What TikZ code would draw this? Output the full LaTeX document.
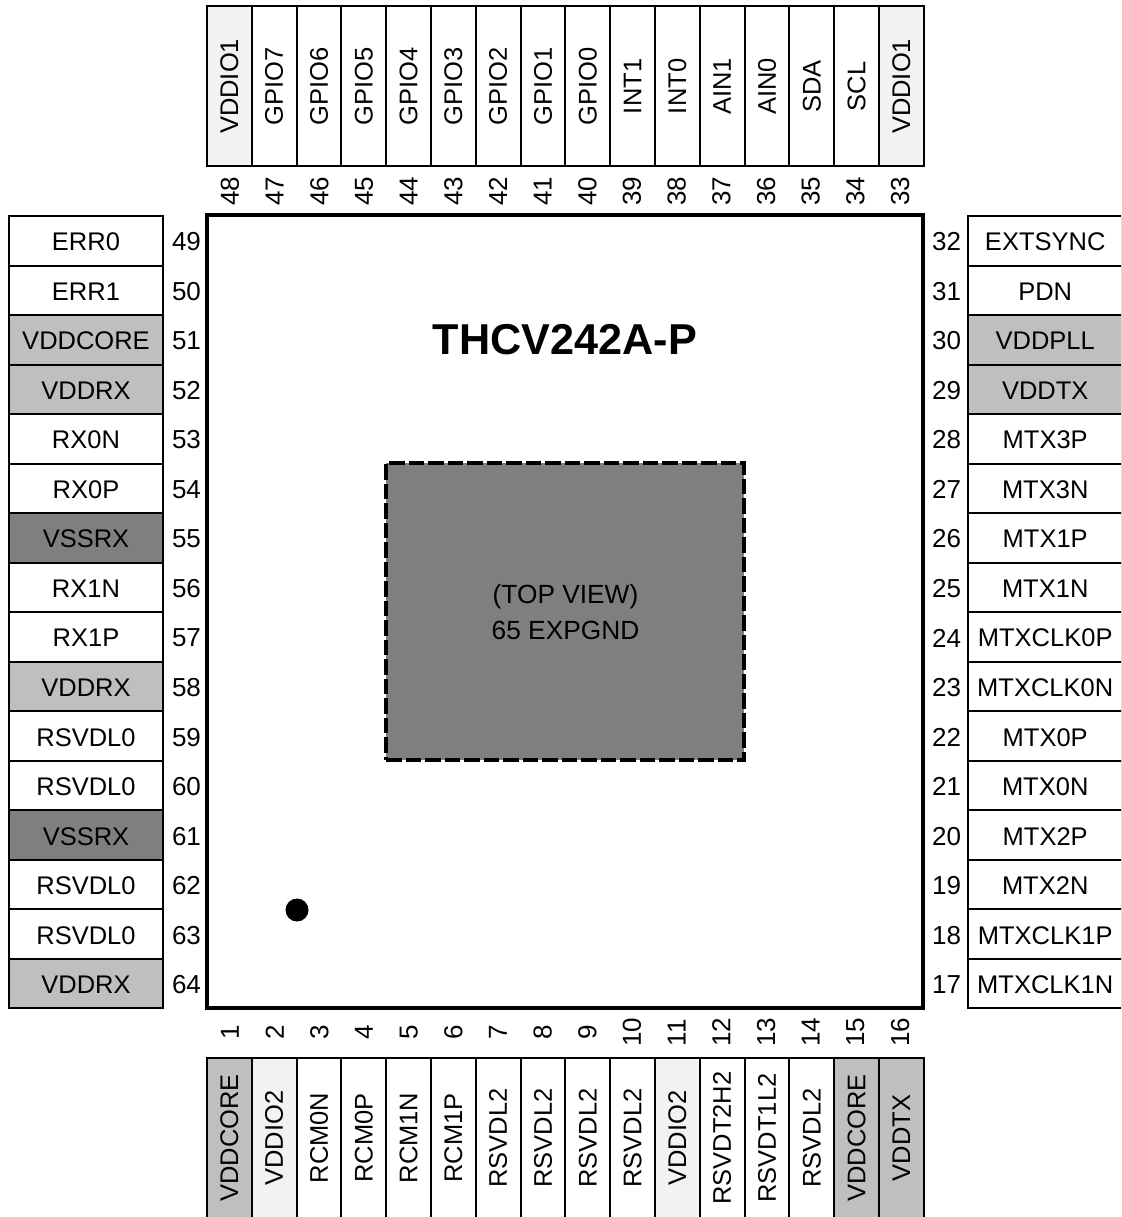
\documentclass[tikz,border=0pt]{standalone}
\usepackage{fontspec}
\setmainfont{Liberation Sans}
\definecolor{pw}{HTML}{BFBFBF}
\definecolor{io}{HTML}{F2F2F2}
\definecolor{gn}{HTML}{7F7F7F}
\tikzset{
 x=1pt,y=-1pt,
 pin/.style={draw=black,line width=2pt,inner sep=0pt,outer sep=0pt,font=\fontsize{25.5}{25.5}\selectfont,text=black},
 hpin/.style={pin,minimum width=153.7pt,minimum height=49.52pt},
 vpin/.style={pin,minimum width=160pt,minimum height=44.8pt,rotate=90},
 num/.style={inner sep=0pt,font=\fontsize{26}{26}\selectfont},
 numv/.style={num,rotate=90},
}
\begin{document}
\begin{tikzpicture}
\clip (0,0) rectangle (1121,1217);
\useasboundingbox (0,0) rectangle (1121,1217);
\fill[white] (0,0) rectangle (1121,1217);
% package body
\node[draw=black,line width=4pt,fill=white,minimum width=715.7pt,minimum height=792.7pt,inner sep=0pt] (body) at (564.85,611.35) {};
\node[draw=black,line width=4pt,dash pattern=on 15.5pt off 4pt,fill=gn,minimum width=358pt,minimum height=297pt,inner sep=0pt] (pad) at (565,611.5) {};
\node[inner sep=0pt,align=center,font=\fontsize{26.3}{36}\selectfont] (padlabel) at (565.5,612) {(TOP VIEW)\\65 EXPGND};
\node[inner sep=0pt,font=\fontsize{43.2}{43.2}\bfseries\selectfont] (title) at (565,339.5) {THCV242A-P};
\node[circle,fill=black,minimum size=23pt,inner sep=0pt] (dot) at (297,910) {};
% left pins
\foreach \n/\t/\c [count=\i from 0] in {49/ERR0/white,50/ERR1/white,51/VDDCORE/pw,52/VDDRX/pw,53/RX0N/white,54/RX0P/white,55/VSSRX/gn,56/RX1N/white,57/RX1P/white,58/VDDRX/pw,59/RSVDL0/white,60/RSVDL0/white,61/VSSRX/gn,62/RSVDL0/white,63/RSVDL0/white,64/VDDRX/pw}{
 \node[hpin,fill=\c] (p\n) at (86,{240.8+\i*49.52}) {\raisebox{-10pt}[0pt][0pt]{\t}};
 \node[num] (n\n) at (186.5,{241.5+\i*49.56}) {\n};
}
% right pins
\foreach \n/\t/\c [count=\i from 0] in {32/EXTSYNC/white,31/PDN/white,30/VDDPLL/pw,29/VDDTX/pw,28/MTX3P/white,27/MTX3N/white,26/MTX1P/white,25/MTX1N/white,24/MTXCLK0P/white,23/MTXCLK0N/white,22/MTX0P/white,21/MTX0N/white,20/MTX2P/white,19/MTX2N/white,18/MTXCLK1P/white,17/MTXCLK1N/white}{
 \node[hpin,fill=\c] (p\n) at (1045.2,{240.8+\i*49.52}) {\raisebox{-10pt}[0pt][0pt]{\t}};
 \node[num] (n\n) at (946.5,{241.5+\i*49.56}) {\n};
}
% top pins
\foreach \n/\t/\c [count=\i from 0] in {48/VDDIO1/io,47/GPIO7/white,46/GPIO6/white,45/GPIO5/white,44/GPIO4/white,43/GPIO3/white,42/GPIO2/white,41/GPIO1/white,40/GPIO0/white,39/INT1/white,38/INT0/white,37/AIN1/white,36/AIN0/white,35/SDA/white,34/SCL/white,33/VDDIO1/io}{
 \node[vpin,fill=\c] (p\n) at ({229.4+\i*44.8},86.4) {\t};
 \node[numv] (n\n) at ({230+\i*44.67},191) {\n};
}
% bottom pins
\foreach \n/\t/\c [count=\i from 0] in {1/VDDCORE/pw,2/VDDIO2/io,3/RCM0N/white,4/RCM0P/white,5/RCM1N/white,6/RCM1P/white,7/RSVDL2/white,8/RSVDL2/white,9/RSVDL2/white,10/RSVDL2/white,11/VDDIO2/io,12/RSVDT2H2/white,13/RSVDT1L2/white,14/RSVDL2/white,15/VDDCORE/pw,16/VDDTX/pw}{
 \node[vpin,fill=\c] (p\n) at ({229.4+\i*44.8},1138) {\t};
 \node[numv] (n\n) at ({230+\i*44.67},1032.5) {\n};
}
\end{tikzpicture}
\end{document}
